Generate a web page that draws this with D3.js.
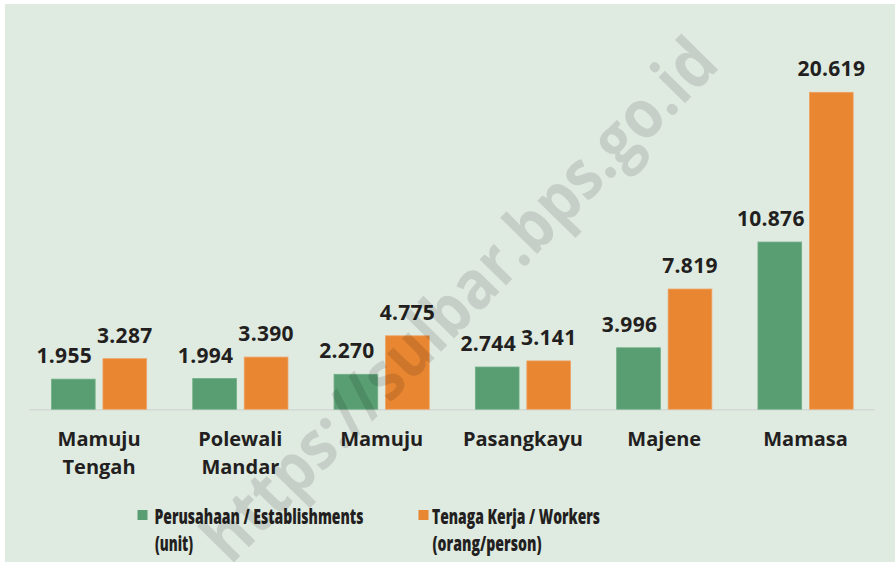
<!DOCTYPE html>
<html>
<head>
<meta charset="utf-8">
<script src="https://cdn.jsdelivr.net/npm/d3@7"></script>
<style>
  html, body { margin: 0; padding: 0; background: #ffffff; }
  svg { display: block; }
</style>
</head>
<body>
<svg id="chart" width="895" height="562"></svg>
<script>
const categories = [["Mamuju", "Tengah"], ["Polewali", "Mandar"], ["Mamuju"], ["Pasangkayu"], ["Majene"], ["Mamasa"]];
const seriesNames = ["Perusahaan / Establishments", "Tenaga Kerja / Workers"];
const seriesUnits = ["(unit)", "(orang/person)"];
const establishments = [1955, 1994, 2270, 2744, 3996, 10876];
const workers = [3287, 3390, 4775, 3141, 7819, 20619];
const valueLabelsEst = ["1.955", "1.994", "2.270", "2.744", "3.996", "10.876"];
const valueLabelsWork = ["3.287", "3.390", "4.775", "3.141", "7.819", "20.619"];
const colors = ["#589e72", "#e88631"];
const strokes = ["#6fae85", "#eea262"];

const svg = d3.select("#chart");
const W = 895, H = 562;
const font = "'Open Sans', 'Noto Sans', sans-serif";
const dark = "#231f20";

// background panel
svg.append("rect").attr("x", 5).attr("y", 4).attr("width", W - 5).attr("height", H - 4).attr("fill", "#dfeae1");

const keys = categories.map((c, i) => c.join(" ") + "_" + i);
const x0 = d3.scaleBand().domain(keys).range([28.4, 876.2]).paddingInner(0).paddingOuter(0);
const bw = x0.bandwidth();
const x1 = d3.scaleBand().domain([0, 1]).range([(bw - 96) / 2, (bw + 96) / 2]).paddingInner(0.136).paddingOuter(0);
const y = d3.scaleLinear().domain([0, 20619]).range([409.2, 92.3]);

// baseline
svg.append("line").attr("x1", 29).attr("x2", 875).attr("y1", 409.8).attr("y2", 409.8)
  .attr("stroke", "#d3d9d4").attr("stroke-width", 1.6);

const data = keys.map((k, i) => ({ key: k, cat: categories[i], vals: [establishments[i], workers[i]], labels: [valueLabelsEst[i], valueLabelsWork[i]] }));

const groups = svg.selectAll("g.grp").data(data).join("g").attr("class", "grp")
  .attr("transform", d => `translate(${x0(d.key)},0)`);

groups.selectAll("rect").data(d => d.vals.map((v, s) => ({ v, s }))).join("rect")
  .attr("x", d => x1(d.s) + 0.4)
  .attr("width", x1.bandwidth() - 0.8)
  .attr("y", d => y(d.v))
  .attr("height", d => y(0) - y(d.v))
  .attr("fill", d => colors[d.s])
  .attr("stroke", d => strokes[d.s])
  .attr("stroke-width", 0.8);

groups.selectAll("text.val").data(d => d.labels.map((l, s) => ({ l, s, v: d.vals[s] }))).join("text")
  .attr("class", "val")
  .attr("x", d => x1(d.s) + x1.bandwidth() / 2 + (d.s === 0 ? -9 : 0))
  .attr("y", d => y(d.v) - 16)
  .attr("text-anchor", "middle")
  .attr("font-family", font).attr("font-weight", 700).attr("font-size", 21)
  .attr("letter-spacing", 0.3)
  .attr("fill", dark)
  .text(d => d.l);

// category labels
groups.each(function (d) {
  const t = d3.select(this).append("text")
    .attr("text-anchor", "middle")
    .attr("font-family", font).attr("font-weight", 700).attr("font-size", 20)
    .attr("fill", dark);
  d.cat.forEach((line, j) => {
    t.append("tspan").attr("x", bw / 2).attr("y", 446 + j * 27.5).text(line);
  });
});

// legend
const legendX = [137.5, 418.5];
const legendTextW = [[209, 38], [168, 109]];
seriesNames.forEach((name, s) => {
  const g = svg.append("g");
  g.append("rect").attr("x", legendX[s]).attr("y", 510).attr("width", 10).attr("height", 10).attr("fill", colors[s]);
  const tx = legendX[s] + (s === 0 ? 17 : 13.5);
  g.append("text").attr("x", tx).attr("y", 524)
    .attr("font-family", font).attr("font-weight", 800).attr("font-size", 21).attr("fill", dark)
    .attr("textLength", legendTextW[s][0]).attr("lengthAdjust", "spacingAndGlyphs")
    .text(name);
  g.append("text").attr("x", tx + 0.5).attr("y", 551)
    .attr("font-family", font).attr("font-weight", 800).attr("font-size", 21).attr("fill", dark)
    .attr("textLength", legendTextW[s][1]).attr("lengthAdjust", "spacingAndGlyphs")
    .text(seriesUnits[s]);
});

// watermark
svg.append("text")
  .attr("transform", "translate(476,316) rotate(-45.5)")
  .attr("text-anchor", "middle")
  .attr("font-family", font).attr("font-weight", 700).attr("font-size", 68)
  .attr("fill", "#000").attr("fill-opacity", 0.115)
  .attr("textLength", 700).attr("lengthAdjust", "spacingAndGlyphs")
  .text("https://sulbar.bps.go.id");
</script>
</body>
</html>
